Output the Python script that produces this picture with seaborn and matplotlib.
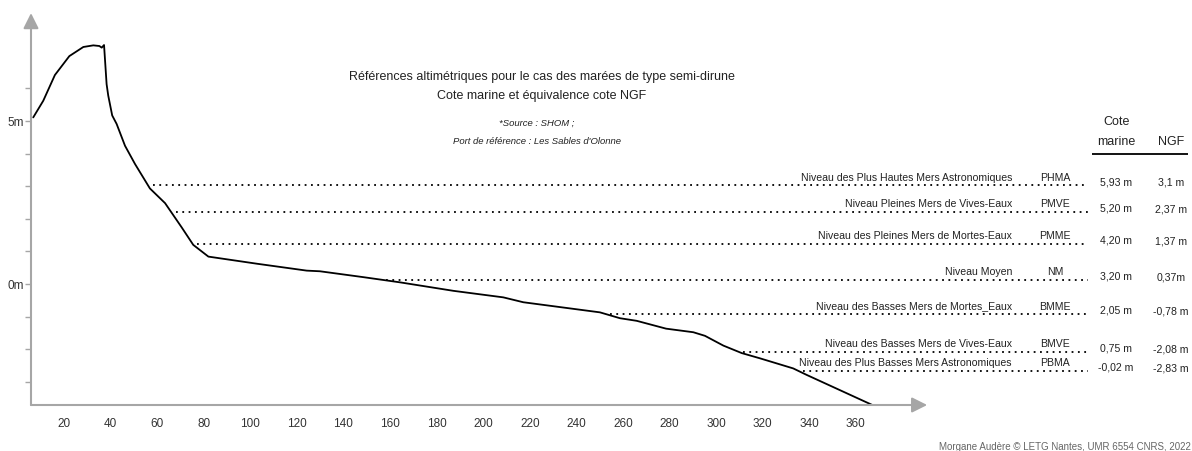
import numpy as np
import seaborn as sns
import matplotlib.pyplot as plt

sns.set_theme(style="white")
plt.rcParams['font.family'] = ['Liberation Sans', 'DejaVu Sans']

# profil (distance, altitude NGF en m)
distance = [6.8, 11.1, 16.1, 22.3, 28.3, 32.6, 35.2, 36.2, 37.2, 38.3, 39.0, 40.7, 42.6,
            46.2, 50.5, 56.9, 63.4, 70.5, 75.5, 82.0, 103.0, 124.2, 129.9, 148.5, 164.3,
            187.2, 208.6, 217.2, 250.1, 258.7, 265.9, 278.5, 290.2, 295.2, 303.1, 311.0,
            318.8, 333.1, 338.9, 367.0]
altitude = [5.11, 5.62, 6.41, 6.99, 7.27, 7.32, 7.30, 7.25, 7.33, 6.13, 5.78, 5.17, 4.91,
            4.24, 3.68, 2.93, 2.48, 1.74, 1.20, 0.84, 0.62, 0.41, 0.39, 0.21, 0.05,
            -0.21, -0.41, -0.56, -0.87, -1.05, -1.13, -1.37, -1.48, -1.59, -1.89, -2.12,
            -2.28, -2.59, -2.79, -3.71]

# niveaux de marée
niveau_label = ["Niveau des Plus Hautes Mers Astronomiques", "Niveau Pleines Mers de Vives-Eaux",
                "Niveau des Pleines Mers de Mortes-Eaux", "Niveau Moyen",
                "Niveau des Basses Mers de Mortes_Eaux", "Niveau des Basses Mers de Vives-Eaux",
                "Niveau des Plus Basses Mers Astronomiques"]
niveau_abrev = ["PHMA", "PMVE", "PMME", "NM", "BMME", "BMVE", "PBMA"]
niveau_y = [3.03, 2.21, 1.23, 0.13, -0.92, -2.08, -2.66]
cote_marine = ["5,93 m", "5,20 m", "4,20 m", "3,20 m", "2,05 m", "0,75 m", "-0,02 m"]
cote_ngf = ["3,1 m", "2,37 m", "1,37 m", "0,37m", "-0,78 m", "-2,08 m", "-2,83 m"]

x_ticks = list(range(20, 361, 20))

W, H = 1192, 452
fig = plt.figure(figsize=(W / 100, H / 100), dpi=100)
ax = fig.add_axes([31 / W, 46 / H, 1 - 31 / W, 1 - 46 / H])

sns.lineplot(x=distance, y=altitude, ax=ax, color="black", linewidth=1.3,
             sort=False, estimator=None)

ax.set_xlim(5.84, 504.3)
ax.set_ylim(-3.712, 8.742)
for s in ax.spines.values():
    s.set_visible(False)

grey = "#a6a6a6"
ax.annotate("", xy=(390.6, -3.712), xytext=(5.84, -3.712),
            arrowprops=dict(arrowstyle="-|>", color=grey, lw=1.5, mutation_scale=23,
                            shrinkA=0, shrinkB=0))
ax.annotate("", xy=(5.84, 8.31), xytext=(5.84, -3.712),
            arrowprops=dict(arrowstyle="-|>", color=grey, lw=1.5, mutation_scale=23,
                            shrinkA=0, shrinkB=0))

ax.set_xticks(x_ticks)
ax.tick_params(axis="x", length=0, pad=9, labelsize=8.5, labelcolor="#333333")
ax.set_yticks([0, 5], ["0m", "5m"])
ax.set_yticks(range(-3, 7), minor=True)
ax.tick_params(axis="y", which="both", left=True, length=4, width=1, color=grey, pad=1,
               labelsize=8.5, labelcolor="#333333")

# lignes pointillées à partir du profil
descente = slice(9, None)
xd = np.array(distance[descente])[::-1]
yd = np.array(altitude[descente])[::-1]
txt = dict(fontsize=7.6, color="#222222")
for i, y in enumerate(niveau_y):
    x0 = np.interp(y, yd, xd) + 2
    ax.hlines(y, x0, 459.5, colors="black", linestyles=(0, (1, 2.5)), linewidth=1.3)
    ax.annotate(niveau_label[i], (427, y), xytext=(0, 2.5), textcoords="offset points",
                ha="right", va="bottom", **txt)
    ax.annotate(niveau_abrev[i], (445.5, y), xytext=(0, 2.5), textcoords="offset points",
                ha="center", va="bottom", **txt)
    ax.annotate(cote_marine[i], (471.7, y), xytext=(0, 3), textcoords="offset points",
                ha="center", va="center", **txt)
    ax.annotate(cote_ngf[i], (495.3, y), xytext=(0, 2.5), textcoords="offset points",
                ha="center", va="center", **txt)

# en-tête du tableau
ax.text(471.7, 5.0, "Cote", ha="center", va="center", fontsize=9, color="#222222")
ax.text(471.7, 4.39, "marine", ha="center", va="center", fontsize=9, color="#222222")
ax.text(495.3, 4.39, "NGF", ha="center", va="center", fontsize=9, color="#222222")
ax.hlines(3.99, 461.4, 502.6, colors="black", linewidth=1.3, clip_on=False)

def fx(px):
    return px / W

def fy(py):
    return 1 - py / H

fig.text(fx(542), fy(77), "Références altimétriques pour le cas des marées de type semi-dirune",
         ha="center", va="center", fontsize=9, color="#222222")
fig.text(fx(542), fy(96), "Cote marine et équivalence cote NGF",
         ha="center", va="center", fontsize=9, color="#222222")
fig.text(fx(537), fy(123), "*Source : SHOM ;", ha="center", va="center",
         fontsize=6.8, style="italic", color="#222222")
fig.text(fx(537), fy(141), "Port de référence : Les Sables d'Olonne", ha="center", va="center",
         fontsize=6.8, style="italic", color="#222222")
fig.text(fx(1191), fy(447), "Morgane Audère © LETG Nantes, UMR 6554 CNRS, 2022",
         ha="right", va="center", fontsize=7, color="#666666")

fig.savefig("out.png", dpi=100)
